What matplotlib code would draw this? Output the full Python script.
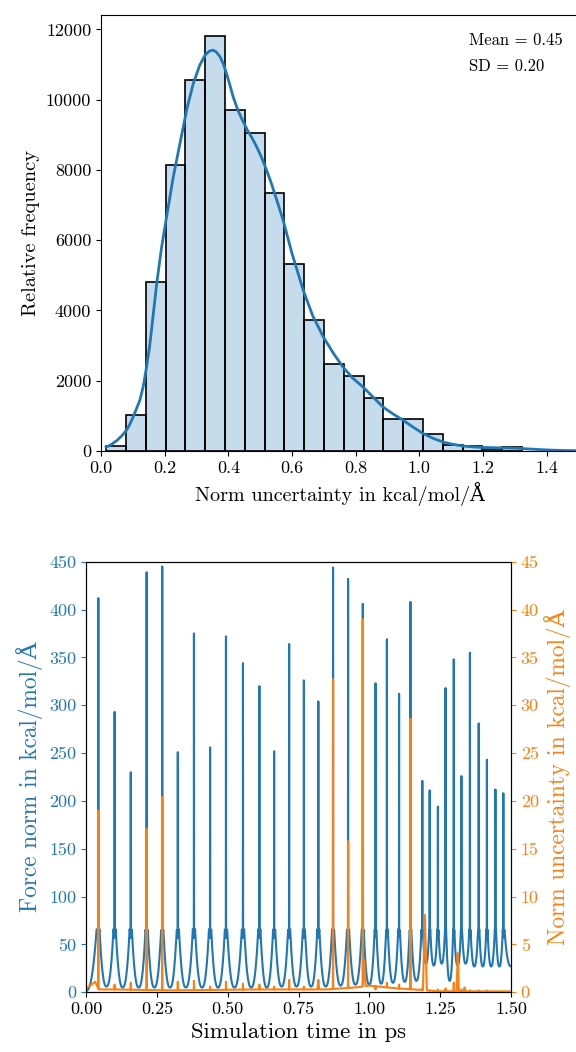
import numpy as np
import matplotlib
matplotlib.use("Agg")
import matplotlib.pyplot as plt
from matplotlib.ticker import FormatStrFormatter

plt.rcParams["font.family"] = ["cmr10", "DejaVu Serif"]
plt.rcParams["mathtext.fontset"] = "cm"
plt.rcParams["axes.unicode_minus"] = False

BLUE = "#1f77b4"
ORANGE = "#ff7f0e"

# --- histogram of norm uncertainty (top panel) ---
bin_start = 0.016
bin_width = 0.0622
bin_counts = [150, 1020, 4820, 8130, 10560, 11820, 9700, 9050, 7350, 5310,
              3740, 2490, 2140, 1510, 900, 900, 475, 180, 142, 66, 114]
kde_x = [0.016, 0.03, 0.05, 0.065, 0.08, 0.09, 0.10, 0.11, 0.122, 0.133, 0.143,
         0.153, 0.163, 0.175, 0.19, 0.206, 0.227, 0.248, 0.27, 0.29, 0.31, 0.327,
         0.34, 0.351, 0.362, 0.374, 0.385, 0.395, 0.405, 0.415, 0.43, 0.445,
         0.46, 0.475, 0.489, 0.505, 0.52, 0.535, 0.55, 0.572, 0.6, 0.635, 0.665,
         0.698, 0.73, 0.76, 0.79, 0.823, 0.855, 0.886, 0.918, 0.949, 0.98, 1.012,
         1.043, 1.074, 1.105, 1.137, 1.17, 1.2, 1.25, 1.3, 1.35, 1.4, 1.45, 1.5]
kde_y = [110, 170, 300, 430, 590, 750, 950, 1170, 1445, 1850, 2390,
         3000, 3800, 4770, 5780, 6665, 7800, 8755, 9750, 10465, 10980, 11270,
         11380, 11413, 11360, 11222, 11000, 10720, 10410, 10083, 9700, 9400,
         9130, 8900, 8658, 8340, 7995, 7620, 7200, 6570, 5620, 4580, 3850,
         3250, 2780, 2390, 2080, 1820, 1530, 1250, 1050, 875, 680, 495,
         360, 256, 190, 142, 115, 100, 90, 80, 55, 30, 15, 8]
stats_text = ["Mean = 0.45", "SD = 0.20"]

# --- force norm / uncertainty time series (bottom panel) ---
peak_times = [0.0435, 0.101, 0.158, 0.214, 0.269, 0.324, 0.381, 0.438, 0.494,
              0.554, 0.612, 0.664, 0.717, 0.769, 0.820, 0.872, 0.925, 0.977,
              1.022, 1.062, 1.105, 1.145, 1.187, 1.213, 1.242, 1.269, 1.298,
              1.325, 1.355, 1.386, 1.415, 1.445, 1.473]
peak_force = [412, 293, 230, 439, 445, 251, 375, 256, 372, 344, 320, 252, 364,
              326, 304, 444, 432, 406, 323, 369, 312, 408, 221, 211, 194, 318,
              348, 226, 355, 281, 243, 212, 208]
peak_unc = [19.0, 0.8, 1.0, 17.1, 20.4, 1.1, 1.2, 0.6, 1.1, 0.9, 0.8, 0.6, 1.3,
            0.6, 1.3, 32.7, 15.8, 39.0, 0.3, 1.0, 0.8, 28.6, 0.4, 0.2, 0.3, 0.4,
            1.0, 0.3, 0.2, 0.2, 0.2, 0.1, 0.1]
# force minimum between consecutive peaks (first/last: start and end of run)
trough_force = [1.5, 6, 5, 5, 5, 5, 5, 5, 5, 5, 5, 5, 6, 6, 6, 6, 7, 8, 8, 9,
                10, 11, 12, 30, 28, 30, 12, 28, 30, 27, 27, 27, 27, 27]
wall_force = 66
notch_force = 56
unc_base_t = [0.0, 0.02, 0.032, 0.045, 0.1, 0.3, 0.6, 0.85, 0.95, 1.0, 1.1, 1.16, 1.25, 1.5]
unc_base_v = [0.4, 0.8, 1.1, 0.3, 0.3, 0.2, 0.3, 0.3, 0.5, 0.7, 0.4, 0.3, 0.1, 0.1]
unc_bumps = [(0.82, 1.3, 0.004), (0.982, 3.3, 0.006), (1.196, 8.1, 0.007),
             (1.312, 4.1, 0.004), (1.336, 0.5, 0.004)]

fig = plt.figure(figsize=(5.76, 10.52), dpi=100)

# top panel
ax = fig.add_axes([101 / 576, 1 - 451 / 1052, 477.6 / 576, 436 / 1052])
edges = bin_start + bin_width * np.arange(len(bin_counts))
ax.bar(edges, bin_counts, width=bin_width, align="edge", color=BLUE, alpha=0.25,
       edgecolor="none")
ax.bar(edges, bin_counts, width=bin_width, align="edge", facecolor="none",
       edgecolor="black", linewidth=1.2)
ax.plot(kde_x, kde_y, color=BLUE, linewidth=2)
ax.set_xlim(0, 1.5)
ax.set_ylim(0, 12411)
ax.set_xticks([0.0, 0.2, 0.4, 0.6, 0.8, 1.0, 1.2, 1.4])
ax.xaxis.set_major_formatter(FormatStrFormatter("%.1f"))
ax.set_yticks(range(0, 12001, 2000))
ax.tick_params(labelsize=13)
ax.set_xlabel("Norm uncertainty in kcal/mol/Å", fontsize=14.5)
ax.set_ylabel("Relative frequency", fontsize=14.7)
ax.text(0.77, 0.943, stats_text[0], transform=ax.transAxes, fontsize=12, va="center")
ax.text(0.77, 0.883, stats_text[1], transform=ax.transAxes, fontsize=12, va="center")

# bottom panel
t = np.arange(0, 1.5 + 1e-9, 0.0005)
bounds = [0.0] + peak_times + [1.5]
force = np.zeros_like(t)
for i in range(len(bounds) - 1):
    a, b = bounds[i], bounds[i + 1]
    if i == 0:
        c, h = a, b - a
    elif i == len(bounds) - 2:
        c, h = b, b - a
    else:
        c, h = (a + b) / 2, (b - a) / 2
    m = (t >= a) & (t <= b)
    u = np.abs(t[m] - c) / h
    trough = trough_force[i]
    val = trough + (wall_force - trough) * np.clip(u / 0.86, 0, 1) ** 2.4
    hi = u > 0.86
    val[hi] = wall_force - (wall_force - notch_force) * (u[hi] - 0.86) / 0.14
    force[m] = val
unc = np.interp(t, unc_base_t, unc_base_v)
for c, hgt, w in unc_bumps:
    unc = np.maximum(unc, hgt * np.clip(1 - np.abs(t - c) / w, 0, 1))
for tp, fp, up in zip(peak_times, peak_force, peak_unc):
    k = int(round(tp / 0.0005))
    force[k] = fp
    unc[k] = up

bx = fig.add_axes([86 / 576, 1 - 992.3 / 1052, 425 / 576, 430.6 / 1052])
bx.plot(t, force, color=BLUE, linewidth=1.5)
bx.set_xlim(0, 1.5)
bx.set_ylim(0, 450)
bx.set_xticks([0, 0.25, 0.5, 0.75, 1.0, 1.25, 1.5])
bx.xaxis.set_major_formatter(FormatStrFormatter("%.2f"))
bx.set_yticks(range(0, 451, 50))
bx.tick_params(axis="x", labelsize=13)
bx.tick_params(axis="y", labelsize=13, colors=BLUE)
bx.set_xlabel("Simulation time in ps", fontsize=16.4)
bx.set_ylabel("Force norm in kcal/mol/Å", fontsize=16.8, color=BLUE)

bx2 = bx.twinx()
bx2.plot(t, unc, color=ORANGE, linewidth=1.5)
bx2.set_ylim(0, 45)
bx2.set_yticks(range(0, 46, 5))
bx2.tick_params(axis="y", labelsize=13, colors=ORANGE)
bx2.set_ylabel("Norm uncertainty in kcal/mol/Å", fontsize=16.8, color=ORANGE)

fig.savefig("out.png", dpi=100)
